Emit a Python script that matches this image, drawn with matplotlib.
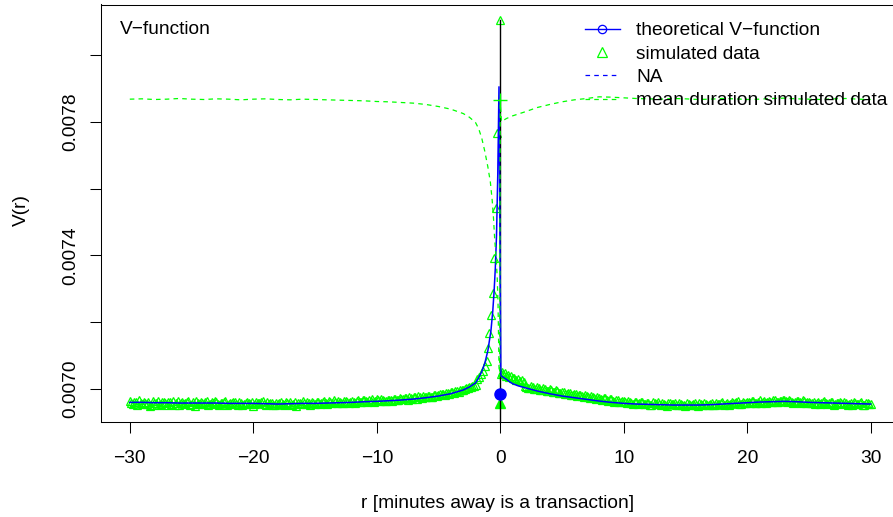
import numpy as np
import matplotlib
matplotlib.use("Agg")
import matplotlib.pyplot as plt
from matplotlib.lines import Line2D

plt.rcParams['font.family'] = ['Liberation Sans', 'DejaVu Sans']
plt.rcParams['lines.scale_dashes'] = False

BLUE = '#0000ff'
GREEN = '#00ff00'
FS = 13.8

# all V values below are in units of 1e-6

# theoretical V-function, left and right of a transaction
theory_r_left = [-30, -29, -28, -27, -26, -25, -24, -23, -22, -21, -20, -19, -18, -17,
                 -16, -15, -14, -13, -12, -11, -10, -9, -8, -7, -6, -5, -4, -3,
                 -2.5, -2, -1.75, -1.5, -1.25, -1.0, -0.75, -0.6, -0.5, -0.4, -0.3,
                 -0.2, -0.1]
theory_v_left = [6960, 6960, 6959, 6959, 6958, 6958, 6958, 6958, 6957, 6957, 6957, 6956,
                 6955, 6956, 6957, 6957, 6958, 6959, 6960, 6962, 6963, 6965, 6967, 6970,
                 6974, 6979, 6986, 6997, 7006, 7018, 7033, 7052, 7077, 7115, 7175, 7235,
                 7290, 7360, 7460, 7640, 7905]
theory_r_right = [0.05, 0.25, 0.5, 0.75, 1, 1.5, 2, 3, 4, 5, 6, 7, 8, 9, 10, 11, 12, 13,
                  14, 15, 16, 17, 18, 19, 20, 21, 22, 23, 24, 25, 26, 27, 28, 29, 30]
theory_v_right = [7040, 7035, 7029, 7022, 7016, 7009, 7004, 6994, 6986, 6979, 6974, 6969,
                  6964, 6960, 6957, 6955, 6954, 6953, 6952, 6952, 6952, 6953, 6955, 6957,
                  6959, 6961, 6962, 6963, 6962, 6960, 6959, 6958, 6957, 6956, 6955]
theory_at_zero = 6985

# simulated data: far tails on a quarter-minute grid (plus the in-between
# eighth-minute points), denser near r = 0
sim_r_left_tail = np.arange(-30.0, -1.99, 0.25)
sim_v_left_tail = [
    6963, 6955, 6960, 6966, 6954, 6958, 6962, 6951, 6959, 6964, 6956, 6961,
    6953, 6960, 6965, 6957, 6952, 6961, 6958, 6964, 6955, 6950, 6959, 6962,
    6956, 6963, 6954, 6958, 6961, 6952, 6957, 6965, 6955, 6959, 6962, 6953,
    6958, 6954, 6961, 6956, 6949, 6960, 6957, 6963, 6952, 6955, 6959, 6951,
    6956, 6961, 6953, 6958, 6962, 6955, 6950, 6959, 6963, 6954, 6957, 6960,
    6955, 6961, 6958, 6964, 6956, 6960, 6966, 6957, 6962, 6959, 6965, 6958,
    6963, 6959, 6966, 6961, 6968, 6962, 6965, 6960, 6969, 6964, 6967, 6963,
    6968, 6964, 6971, 6966, 6970, 6974, 6968, 6973, 6977, 6971, 6976, 6979,
    6975, 6980, 6977, 6983, 6981, 6986, 6983, 6989, 6992, 6988, 6995, 6998,
    6996, 7002, 7005, 7008, 7013]
sim_r_left_mid = np.arange(-29.875, -2.0, 0.25)
sim_v_left_mid = [
    6957, 6962, 6953, 6959, 6961, 6956, 6950, 6963, 6957, 6952, 6960, 6958,
    6962, 6956, 6951, 6963, 6959, 6955, 6961, 6953, 6960, 6963, 6954, 6957,
    6960, 6952, 6961, 6964, 6955, 6959, 6962, 6953, 6958, 6961, 6956, 6960,
    6952, 6959, 6957, 6962, 6955, 6958, 6961, 6954, 6960, 6957, 6953, 6958,
    6959, 6954, 6960, 6956, 6952, 6961, 6957, 6955, 6958, 6961, 6953, 6957,
    6960, 6954, 6962, 6959, 6963, 6957, 6961, 6963, 6959, 6964, 6960, 6962,
    6960, 6965, 6962, 6967, 6963, 6966, 6969, 6964, 6966, 6970, 6965, 6968,
    6966, 6970, 6968, 6973, 6969, 6972, 6975, 6971, 6975, 6978, 6974, 6977,
    6979, 6976, 6982, 6980, 6985, 6984, 6988, 6986, 6991, 6994, 6992, 6997,
    7000, 7003, 7007, 7010]
sim_r_left_near = [-1.85, -1.7, -1.55, -1.4, -1.25, -1.1, -0.97, -0.87, -0.75, -0.6,
                   -0.48, -0.36, -0.27]
sim_v_left_near = [7030, 7036, 7044, 7055, 7068, 7083, 7123, 7168, 7222, 7288, 7393,
                   7543, 7767]
sim_r_zero = 0.0
sim_v_zero = 8106
sim_r_right_near = [0.05, 0.15, 0.25, 0.4, 0.5, 0.6, 0.75, 0.9, 1.0, 1.15, 1.3, 1.45,
                    1.6, 1.75, 1.9]
sim_v_right_near = [7046, 7050, 7044, 7047, 7040, 7043, 7036, 7038, 7032, 7034, 7028,
                    7030, 7024, 7026, 7020]
sim_r_right_tail = np.arange(2.0, 30.01, 0.25)
sim_v_right_tail = [
    7010, 7004, 7008, 7001, 7005, 6998, 7002, 6995, 6999, 6992, 6996, 6989,
    6992, 6985, 6989, 6982, 6986, 6979, 6983, 6976, 6980, 6973, 6977, 6971,
    6974, 6968, 6972, 6965, 6969, 6962, 6967, 6960, 6964, 6958, 6962, 6956,
    6962, 6957, 6960, 6954, 6959, 6952, 6957, 6961, 6953, 6956, 6950, 6958,
    6955, 6951, 6958, 6953, 6949, 6956, 6952, 6959, 6950, 6954, 6957, 6951,
    6956, 6953, 6959, 6954, 6961, 6956, 6952, 6960, 6957, 6963, 6955, 6959,
    6962, 6957, 6964, 6959, 6966, 6961, 6958, 6965, 6962, 6968, 6960, 6964,
    6967, 6961, 6965, 6958, 6963, 6960, 6966, 6957, 6962, 6959, 6955, 6961,
    6958, 6963, 6955, 6960, 6953, 6957, 6962, 6954, 6959, 6956, 6951, 6958,
    6955, 6960, 6952, 6957, 6954]
sim_r_right_mid = np.arange(2.125, 30.0, 0.25)
sim_v_right_mid = [
    7007, 7002, 7006, 7000, 7003, 6996, 7000, 6993, 6997, 6990, 6994, 6988,
    6990, 6986, 6988, 6981, 6984, 6981, 6979, 6982, 6975, 6978, 6972, 6975,
    6970, 6973, 6967, 6970, 6964, 6968, 6962, 6965, 6960, 6963, 6957, 6960,
    6956, 6961, 6955, 6958, 6953, 6960, 6954, 6956, 6959, 6952, 6957, 6954,
    6958, 6952, 6955, 6951, 6957, 6953, 6956, 6952, 6958, 6951, 6955, 6953,
    6958, 6951, 6956, 6958, 6953, 6959, 6955, 6958, 6961, 6954, 6960, 6957,
    6960, 6963, 6958, 6962, 6959, 6964, 6962, 6960, 6966, 6961, 6963, 6966,
    6963, 6966, 6960, 6962, 6965, 6958, 6963, 6960, 6957, 6962, 6958, 6956,
    6961, 6957, 6959, 6962, 6955, 6959, 6957, 6960, 6953, 6957, 6960, 6955,
    6958, 6953, 6959, 6956]
sim_at_zero_filled = 6958

# mean duration of the simulated data (rescaled)
mean_r = [-30, -29, -28, -27, -26, -25, -24, -23, -22, -21, -20, -19, -18, -17, -16,
          -15, -14, -13, -12, -11, -10, -9, -8, -7, -6, -5, -4, -3, -2.5, -2, -1.75,
          -1.5, -1.25, -1.0, -0.8, -0.65, -0.55, -0.45, -0.35, -0.25, -0.18, -0.1,
          -0.05, 0, 0.1, 0.5, 1, 1.5, 2, 3, 4, 5, 6, 7, 8, 9, 10, 11, 12, 13, 14, 15,
          16, 17, 18, 19, 20, 21, 22, 23, 24, 25, 26, 27, 28, 29, 30]
mean_v = [7868, 7869, 7867, 7868, 7870, 7868, 7867, 7869, 7868, 7866, 7868, 7869, 7867,
          7866, 7868, 7867, 7866, 7865, 7864, 7863, 7861, 7860, 7858, 7856, 7852, 7846,
          7838, 7825, 7814, 7798, 7780, 7752, 7712, 7665, 7620, 7565, 7515, 7450, 7400,
          7340, 7260, 7066, 7036, 7867, 7801, 7810, 7818, 7824, 7830, 7843, 7852, 7860,
          7866, 7870, 7875, 7874, 7872, 7870, 7869, 7868, 7870, 7869, 7867, 7868, 7870,
          7869, 7867, 7868, 7870, 7871, 7869, 7868, 7867, 7869, 7870, 7868, 7867]
mean_at_zero = 7867

E = 1e-6

W, H = 893, 517
fig = plt.figure(figsize=(W / 100, H / 100), dpi=100)
left, right, top, bottom = 101, 895, 4.5, 421.7
ax = fig.add_axes([left / W, 1 - bottom / H, (right - left) / W, (bottom - top) / H])

# simulated data as open triangles
sim_r = np.concatenate([sim_r_left_tail, sim_r_left_mid, sim_r_left_near, [sim_r_zero],
                        sim_r_right_near, sim_r_right_tail, sim_r_right_mid])
sim_v = np.concatenate([sim_v_left_tail, sim_v_left_mid, sim_v_left_near, [sim_v_zero],
                        sim_v_right_near, sim_v_right_tail, sim_v_right_mid]) * E
ax.plot(sim_r, sim_v, ls='none', marker='^', ms=5.8, mfc='none', mec=GREEN, mew=0.9,
        zorder=2)
ax.plot([0], [sim_at_zero_filled * E], ls='none', marker='^', ms=7.5, color=GREEN,
        zorder=2)

# vertical line at the transaction itself
ax.plot([0, 0], [sim_v_zero * E, 0.0068], color='black', lw=1.0, zorder=3)

# theoretical curve
th_r = theory_r_left + theory_r_right
th_v = np.array(theory_v_left + theory_v_right) * E
ax.plot(th_r, th_v, color=BLUE, lw=1.1, zorder=4)
ax.plot([0], [theory_at_zero * E], ls='none', marker='o', ms=8, color=BLUE, zorder=5)

# mean duration of simulated data
ax.plot(mean_r, np.array(mean_v) * E, color=GREEN, lw=0.9, dashes=(3.3, 3.0), zorder=5)
ax.plot([0], [mean_at_zero * E], ls='none', marker='+', ms=10, mew=1.0, color=GREEN,
        zorder=5)

ax.set_xlim(-32.33, 31.97)
ax.set_ylim(0.0069021, 0.0081515)

ax.set_xticks([-30, -20, -10, 0, 10, 20, 30])
ax.set_yticks([0.0070, 0.0072, 0.0074, 0.0076, 0.0078, 0.0080],
              ['0.0070', '', '0.0074', '', '0.0078', ''])
ax.tick_params(axis='both', length=8.2, width=0.75, labelsize=FS)
ax.tick_params(axis='x', pad=12)
ax.tick_params(axis='y', pad=7.4)
for lab in ax.get_yticklabels():
    lab.set_rotation(90)
    lab.set_va('center')
    lab.set_ha('right')

for s in ['left', 'bottom', 'top']:
    ax.spines[s].set_linewidth(0.75)
ax.spines['right'].set_visible(False)

ax.set_xlabel('r [minutes away is a transaction]', fontsize=FS)
ax.xaxis.label.set_va('center')
ax.xaxis.set_label_coords(0.5, (bottom - 504) / (bottom - top))
ax.set_ylabel('V(r)', fontsize=FS)
ax.yaxis.label.set_va('center')
ax.yaxis.label.set_ha('center')
ax.yaxis.set_label_coords((21 - left) / (right - left), (bottom - 210) / (bottom - top))

ax.text((120 - left) / (right - left), (bottom - 30) / (bottom - top), 'V\u2212function',
        transform=ax.transAxes, fontsize=FS, ha='left', va='center')

handles = [
    Line2D([], [], color=BLUE, lw=1.0, marker='o', ms=6, mfc='none', mew=0.9),
    Line2D([], [], ls='none', marker='^', ms=6.5, mfc='none', mec=GREEN, mew=0.9),
    Line2D([], [], color=BLUE, lw=0.9, dashes=(3.3, 3.0)),
    Line2D([], [], color=GREEN, lw=0.9, dashes=(3.3, 3.0)),
]
labels = ['theoretical V\u2212function', 'simulated data', 'NA',
          'mean duration simulated data']
ax.legend(handles, labels, loc='upper left', bbox_to_anchor=(585 / W, 1 - 22 / H),
          bbox_transform=fig.transFigure, frameon=False, fontsize=FS, borderpad=0,
          borderaxespad=0, handlelength=1.82, handletextpad=0.85, labelspacing=0.31,
          numpoints=1)

fig.savefig('out.png', dpi=100)
